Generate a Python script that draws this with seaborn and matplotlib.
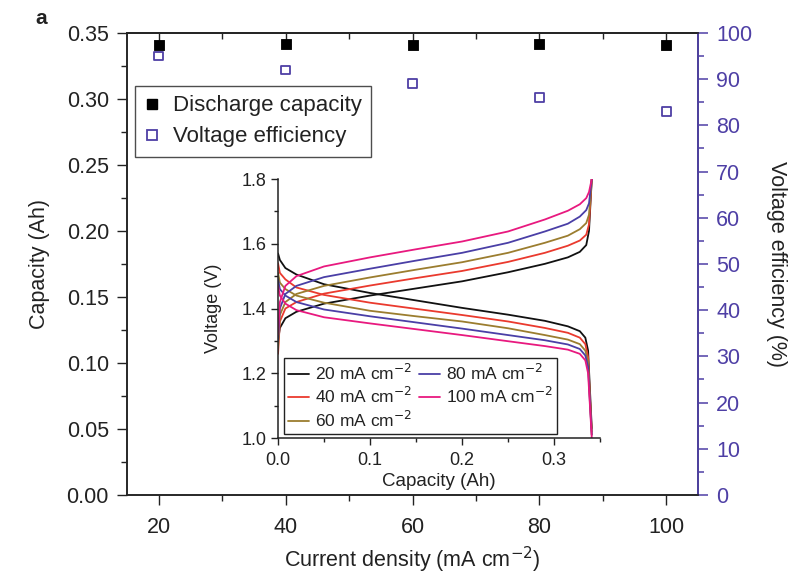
import numpy as np
import pandas as pd
import matplotlib
matplotlib.use("Agg")
import matplotlib.pyplot as plt
from matplotlib.lines import Line2D
from matplotlib.ticker import MultipleLocator, FormatStrFormatter
import seaborn as sns

sns.set_theme(style="ticks")
plt.rcParams['font.family'] = ['Liberation Sans', 'DejaVu Sans']
plt.rcParams['axes.unicode_minus'] = True

# main panel: rate performance
current_density = [20, 40, 60, 80, 100]
discharge_capacity = [0.341, 0.342, 0.341, 0.342, 0.341]
voltage_eff = [95, 92, 89, 86, 83]

# inset: charge / discharge curves at each current density
labels = ['20 mA cm$^{-2}$', '40 mA cm$^{-2}$', '60 mA cm$^{-2}$',
          '80 mA cm$^{-2}$', '100 mA cm$^{-2}$']
line_colors = ['#111111', '#ea3a2e', '#9b7d2f', '#4a3fa6', '#e8197f']

cap_chg = [0.0, 0.002, 0.008, 0.02, 0.05, 0.10, 0.15, 0.20, 0.25, 0.29,
           0.315, 0.328, 0.335, 0.338, 0.341]
v_chg_20 = [1.30, 1.34, 1.37, 1.39, 1.415, 1.440, 1.462, 1.484, 1.512, 1.538,
            1.558, 1.575, 1.596, 1.64, 1.80]
v_chg_40 = [1.26, 1.36, 1.40, 1.42, 1.446, 1.471, 1.494, 1.516, 1.544, 1.572,
            1.594, 1.610, 1.628, 1.66, 1.80]
v_chg_60 = [1.28, 1.38, 1.42, 1.445, 1.470, 1.496, 1.520, 1.543, 1.572, 1.603,
            1.625, 1.645, 1.664, 1.69, 1.80]
v_chg_80 = [1.30, 1.40, 1.445, 1.47, 1.497, 1.523, 1.548, 1.572, 1.603, 1.638,
            1.662, 1.684, 1.704, 1.725, 1.80]
v_chg_100 = [1.32, 1.42, 1.47, 1.50, 1.530, 1.558, 1.583, 1.607, 1.638, 1.675,
             1.702, 1.722, 1.741, 1.76, 1.80]

cap_dis = [0.0, 0.002, 0.008, 0.02, 0.05, 0.10, 0.15, 0.20, 0.25, 0.29,
           0.315, 0.328, 0.334, 0.337, 0.339, 0.341]
v_dis_20 = [1.57, 1.55, 1.525, 1.505, 1.475, 1.448, 1.425, 1.402, 1.381, 1.362,
            1.345, 1.33, 1.31, 1.27, 1.15, 1.03]
v_dis_40 = [1.54, 1.51, 1.49, 1.465, 1.442, 1.418, 1.399, 1.380, 1.360, 1.340,
            1.325, 1.31, 1.29, 1.25, 1.13, 1.02]
v_dis_60 = [1.51, 1.48, 1.46, 1.44, 1.418, 1.393, 1.376, 1.360, 1.339, 1.318,
            1.304, 1.29, 1.27, 1.235, 1.12, 1.01]
v_dis_80 = [1.49, 1.46, 1.44, 1.42, 1.397, 1.376, 1.357, 1.338, 1.318, 1.302,
            1.289, 1.275, 1.255, 1.22, 1.11, 1.01]
v_dis_100 = [1.47, 1.44, 1.415, 1.395, 1.373, 1.354, 1.336, 1.318, 1.299, 1.284,
             1.273, 1.26, 1.24, 1.20, 1.10, 1.00]

chg = [v_chg_20, v_chg_40, v_chg_60, v_chg_80, v_chg_100]
dis = [v_dis_20, v_dis_40, v_dis_60, v_dis_80, v_dis_100]

rows = []
for lab, vc, vd in zip(labels, chg, dis):
    for c, v in zip(cap_chg, vc):
        rows.append((lab, 'charge', c, v))
    for c, v in zip(cap_dis, vd):
        rows.append((lab, 'discharge', c, v))
curves = pd.DataFrame(rows, columns=['current', 'mode', 'capacity', 'voltage'])

purple = '#4e3fa5'
dark = '#222222'

fig = plt.figure(figsize=(7.91, 5.79), dpi=100)
ax = fig.add_axes([0.1606, 0.1451, 0.7219, 0.7979])

sns.scatterplot(x=current_density, y=discharge_capacity, ax=ax, marker='s',
                color='black', edgecolor='black', s=60, zorder=3, legend=False)
ax.set_xlim(15, 105)
ax.set_ylim(0, 0.35)
ax.xaxis.set_major_locator(MultipleLocator(20))
ax.xaxis.set_minor_locator(MultipleLocator(10))
ax.yaxis.set_major_locator(MultipleLocator(0.05))
ax.yaxis.set_minor_locator(MultipleLocator(0.025))
ax.yaxis.set_major_formatter(FormatStrFormatter('%.2f'))
ax.tick_params(which='both', direction='out', labelsize=15.5,
               color=dark, labelcolor=dark, width=1.0, pad=6)
ax.tick_params(axis='x', pad=9)
ax.tick_params(which='major', length=7)
ax.tick_params(which='minor', length=4)
ax.set_xlabel('Current density (mA cm$^{-2}$)', fontsize=15.5, labelpad=5,
              color=dark)
ax.set_ylabel('Capacity (Ah)', fontsize=15.5, labelpad=12, color=dark)
for s in ax.spines.values():
    s.set_linewidth(1.1)
    s.set_color(dark)

# top ticks point inward
topx = ax.secondary_xaxis('top')
topx.xaxis.set_major_locator(MultipleLocator(20))
topx.xaxis.set_minor_locator(MultipleLocator(10))
topx.tick_params(which='both', direction='in', labeltop=False, color=dark,
                 width=1.0)
topx.tick_params(which='major', length=7)
topx.tick_params(which='minor', length=4)
topx.spines['top'].set_linewidth(1.1)
topx.spines['top'].set_color(dark)

ax2 = ax.twinx()
sns.scatterplot(x=current_density, y=voltage_eff, ax=ax2, marker='s',
                fc='none', ec=purple, linewidth=1.3, s=40, zorder=3, legend=False)
ax2.set_ylim(0, 100)
ax2.yaxis.set_major_locator(MultipleLocator(10))
ax2.yaxis.set_minor_locator(MultipleLocator(5))
ax2.tick_params(axis='y', which='both', direction='out', colors=purple,
                labelsize=15.5, width=1.1, pad=6)
ax2.tick_params(axis='y', which='major', length=7)
ax2.tick_params(axis='y', which='minor', length=4.5)
ax2.spines['right'].set_color(purple)
ax2.spines['right'].set_linewidth(1.3)
ax2.set_ylabel('Voltage efficiency (%)', fontsize=15.5, rotation=-90,
               labelpad=25, color=dark)

handles = [Line2D([], [], marker='s', ls='', color='black', markersize=7.5),
           Line2D([], [], marker='s', ls='', mfc='none', mec=purple,
                  mew=1.3, markersize=6.5)]
leg = ax2.legend(handles, ['Discharge capacity', 'Voltage efficiency'],
                 loc='upper left', bbox_to_anchor=(0.014, 0.885), fontsize=16,
                 frameon=True, fancybox=False, handlelength=0.7,
                 handletextpad=0.6, borderpad=0.42, labelspacing=0.45,
                 borderaxespad=0)
for t in leg.get_texts():
    t.set_color(dark)
leg.get_frame().set_edgecolor(dark)
leg.get_frame().set_linewidth(1.0)

fig.text(0.045, 0.968, 'a', fontsize=15, fontweight='bold', ha='left',
         va='center', color=dark)

# inset
axi = fig.add_axes([0.3515, 0.2435, 0.4071, 0.4473])
axi.patch.set_alpha(0)
sns.lineplot(data=curves, x='capacity', y='voltage', hue='current',
             units='mode', estimator=None, sort=False, palette=line_colors,
             hue_order=labels, linewidth=1.3, ax=axi, legend=False)
axi.set_xlim(0, 0.35)
axi.set_ylim(1.0, 1.8)
axi.xaxis.set_major_locator(MultipleLocator(0.1))
axi.xaxis.set_minor_locator(MultipleLocator(0.05))
axi.yaxis.set_major_locator(MultipleLocator(0.2))
axi.yaxis.set_minor_locator(MultipleLocator(0.1))
axi.xaxis.set_major_formatter(FormatStrFormatter('%.1f'))
axi.yaxis.set_major_formatter(FormatStrFormatter('%.1f'))
axi.tick_params(which='both', direction='out', labelsize=13, width=1.0,
                color=dark, labelcolor=dark)
axi.tick_params(axis='x', pad=5)
axi.tick_params(axis='y', pad=3)
axi.tick_params(which='major', length=5)
axi.tick_params(which='minor', length=3)
axi.spines['top'].set_visible(False)
axi.spines['right'].set_visible(False)
for s in ['left', 'bottom']:
    axi.spines[s].set_linewidth(1.1)
    axi.spines[s].set_color(dark)
axi.set_xlabel('Capacity (Ah)', fontsize=13.5, labelpad=3, color=dark)
axi.set_ylabel('Voltage (V)', fontsize=13, labelpad=14, color=dark)

ihandles = [Line2D([], [], color=c, lw=1.3) for c in line_colors]
ileg = axi.legend(ihandles, labels, ncol=2, loc='lower left',
                  bbox_to_anchor=(0.018, 0.015), fontsize=12.5, frameon=True,
                  fancybox=False, handlelength=1.2, handletextpad=0.35,
                  columnspacing=0.4, borderpad=0.25, labelspacing=0.2,
                  borderaxespad=0)
for t in ileg.get_texts():
    t.set_color(dark)
ileg.get_frame().set_edgecolor(dark)
ileg.get_frame().set_linewidth(1.0)
ileg.get_frame().set_alpha(1)

fig.savefig('out.png', dpi=100)
